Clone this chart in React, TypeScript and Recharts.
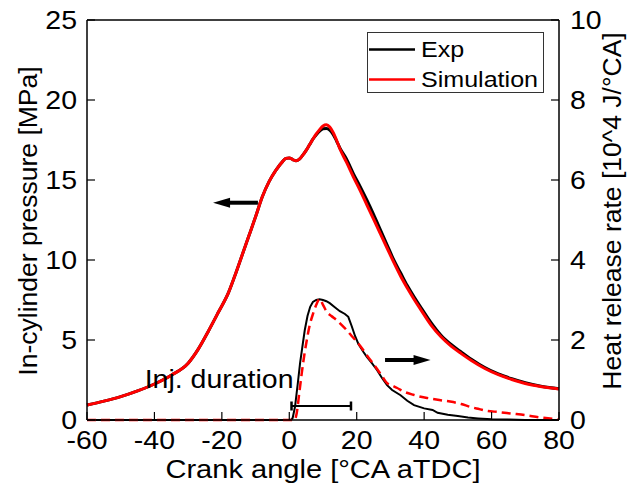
import { ComposedChart, Line, XAxis, YAxis, Legend, ReferenceLine } from "recharts";

// crank angle [°CA aTDC] -> in-cylinder pressure [MPa]
const pressureAngle = [
  -60, -55, -50, -45, -40, -35, -30, -27, -24, -21, -18, -16, -14, -12, -10, -8, -6, -4, -2, -1,
  0, 1, 2, 3, 4, 5, 6, 7, 8, 9, 10, 11, 12, 13, 14, 15, 17, 19, 21, 23, 25, 27, 29, 31, 33, 35,
  37, 39, 42, 45, 48, 51, 54, 58, 62, 66, 70, 75, 80,
];
const pressureExp = [
  0.94, 1.18, 1.46, 1.82, 2.25, 2.8, 3.55, 4.43, 5.55, 6.75, 7.98, 9.1, 10.3, 11.5, 12.7, 13.95, 14.9, 15.6, 16.15, 16.35,
  16.38, 16.28, 16.2, 16.3, 16.55, 16.85, 17.2, 17.55, 17.82, 18.05, 18.2, 18.22, 18.12, 17.85, 17.45, 17.0, 16.3, 15.4, 14.6, 13.75, 12.85, 11.9, 10.95, 10.0, 9.2, 8.4,
  7.7, 7.05, 6.1, 5.3, 4.72, 4.25, 3.8, 3.28, 2.88, 2.58, 2.33, 2.1, 1.96,
];
const pressureSim = [
  0.94, 1.18, 1.46, 1.82, 2.25, 2.8, 3.55, 4.43, 5.55, 6.75, 7.98, 9.1, 10.3, 11.5, 12.7, 13.95, 14.9, 15.6, 16.15, 16.35,
  16.38, 16.28, 16.2, 16.3, 16.55, 16.85, 17.2, 17.55, 17.88, 18.15, 18.38, 18.45, 18.32, 17.98, 17.5, 16.95, 16.1, 15.2, 14.35, 13.45, 12.55, 11.65, 10.75, 9.85, 9.0, 8.25,
  7.55, 6.9, 5.95, 5.2, 4.62, 4.15, 3.72, 3.22, 2.83, 2.53, 2.28, 2.08, 1.94,
];

// crank angle -> heat release rate [10^4 J/°CA]
const hrrExp: [number, number][] = [
  [-60, 0], [0.5, 0], [1, 0.05], [1.7, 0.33], [2.5, 0.9], [3.2, 1.42], [4, 1.9], [4.6, 2.25], [5.4, 2.6],
  [6.2, 2.83], [7, 2.95], [8, 3.0], [9, 3.02], [10, 3.0], [11, 2.97], [12, 2.92], [13.5, 2.82], [15, 2.72],
  [16.5, 2.65], [17.5, 2.58], [18.5, 2.35], [19.5, 2.1], [20.5, 1.9], [22, 1.7], [23, 1.58], [24.5, 1.42],
  [26, 1.25], [27.5, 1.05], [29, 0.87], [30.5, 0.75], [33, 0.62], [35, 0.48], [37, 0.37], [40, 0.29],
  [42.5, 0.25], [44, 0.18], [47, 0.13], [50, 0.1], [53, 0.06], [56, 0.04], [60, 0.02], [65, 0.01], [70, 0], [80, 0],
];
const hrrSim: [number, number][] = [
  [-60, 0], [1.5, 0], [2.2, 0.17], [3, 0.7], [3.7, 1.17], [4.5, 1.65], [5.2, 2.0], [6, 2.35], [7.1, 2.67],
  [8, 2.88], [9, 3.03], [10, 2.88], [11, 2.72], [12.5, 2.6], [14, 2.5], [15.5, 2.38], [17, 2.25], [18.5, 2.1],
  [20, 1.96], [21.5, 1.8], [23, 1.62], [24.5, 1.45], [26, 1.28], [27.5, 1.1], [29, 0.92], [30.5, 0.86],
  [32, 0.8], [34, 0.71], [36.8, 0.63], [39, 0.58], [41.7, 0.54], [44.5, 0.5], [47.7, 0.46], [51, 0.4],
  [53.6, 0.33], [56, 0.28], [58.6, 0.23], [62, 0.2], [66, 0.16], [70, 0.12], [74, 0.07], [78, 0.03], [80, 0.01],
];

const angleTicks = [-60, -40, -20, 0, 20, 40, 60, 80];
const pressureTicks = [0, 5, 10, 15, 20, 25];
const hrrTicks = [0, 2, 4, 6, 8, 10];

const seriesNames = ["Exp", "Simulation"];
const seriesColors = ["#000000", "#ff0000"];

// injection window [°CA] and the level it is drawn at (HRR axis)
const injStart = 0.66;
const injEnd = 18.3;
const injLevel = 0.35;
const injLabel = "Inj. duration";

// arrows pointing to the axis each curve family belongs to (pressure units)
const pressureArrow = [{ x: -9.3, y: 13.58 }, { x: -22.6, y: 13.58 }];
const hrrArrow = [{ x: 28.4, y: 3.75 }, { x: 41.9, y: 3.75 }];

const FONT = '"Liberation Sans", Arial, sans-serif';
const SX = 1.14;

const pressureData = pressureAngle.map((ca, i) => ({ ca, exp: pressureExp[i], sim: pressureSim[i] }));
const hrrExpData = hrrExp.map(([ca, v]) => ({ ca, v }));
const hrrSimData = hrrSim.map(([ca, v]) => ({ ca, v }));

function BottomTick({ x, y, payload }: any) {
  return (
    <g transform={`translate(${x},${y}) scale(${SX},1)`}>
      <text x={0} y={29} textAnchor="middle" fontSize={25} fontFamily={FONT} fill="#000">
        {payload.value}
      </text>
    </g>
  );
}

function LeftTick({ x, y, payload }: any) {
  return (
    <g transform={`translate(${x - 10},${y + 8.5}) scale(${SX},1)`}>
      <text x={0} y={0} textAnchor="end" fontSize={25} fontFamily={FONT} fill="#000">
        {payload.value}
      </text>
    </g>
  );
}

function RightTick({ x, y, payload }: any) {
  return (
    <g transform={`translate(${x + 11},${y + 8.5}) scale(${SX},1)`}>
      <text x={0} y={0} textAnchor="start" fontSize={25} fontFamily={FONT} fill="#000">
        {payload.value}
      </text>
    </g>
  );
}

function Arrow({ x1, y1, x2, y2 }: any) {
  const dir = Math.sign(x2 - x1);
  const base = x2 - dir * 17;
  return (
    <g>
      <line x1={x1} y1={y1} x2={base + dir * 2} y2={y2} stroke="#000" strokeWidth={4} />
      <polygon points={`${x2},${y2} ${base},${y2 - 5} ${base},${y2 + 5}`} fill="#000" />
    </g>
  );
}

function InjBar({ x1, y1, x2, y2 }: any) {
  return (
    <g>
      <line x1={x1} y1={y1} x2={x2} y2={y2} stroke="#000" strokeWidth={2} />
      <line x1={x1} y1={y1 - 4.5} x2={x1} y2={y1 + 4.5} stroke="#000" strokeWidth={2.5} />
      <line x1={x2} y1={y2 - 4.5} x2={x2} y2={y2 + 4.5} stroke="#000" strokeWidth={2.5} />
      <g transform={`translate(${x1 + 2},${y1 - 18}) scale(${SX},1)`}>
        <text x={0} y={0} textAnchor="end" fontSize={25} fontFamily={FONT} fill="#000">
          {injLabel}
        </text>
      </g>
    </g>
  );
}

function LegendBox() {
  return (
    <svg width={177} height={61} style={{ display: "block" }}>
      <rect x={0.5} y={0.5} width={176} height={60} fill="#fff" stroke="#333" />
      {seriesNames.map((name, i) => (
        <g key={name}>
          <line x1={2} x2={48} y1={17.5 + 30 * i} y2={17.5 + 30 * i} stroke={seriesColors[i]} strokeWidth={2.5} />
          <g transform={`translate(54,${25 + 30 * i}) scale(${SX},1)`}>
            <text x={0} y={0} fontSize={22} fontFamily={FONT} fill="#000">
              {name}
            </text>
          </g>
        </g>
      ))}
    </svg>
  );
}

export default function App() {
  return (
    <div style={{ position: "absolute", left: 0, top: 0, background: "#fff" }}>
      <ComposedChart width={639} height={487} margin={{ top: 20, right: 0, bottom: 0, left: 0 }}>
        <XAxis
          type="number"
          dataKey="ca"
          domain={[-60, 80]}
          ticks={angleTicks}
          interval={0}
          height={67}
          axisLine={{ stroke: "#000", strokeWidth: 1.5 }}
          tickLine={{ stroke: "#000", strokeWidth: 1.2 }}
          tickSize={-8}
          tickMargin={8}
          tick={<BottomTick />}
          label={(p: any) => {
            const vb = p.viewBox || { x: 87, y: 420, width: 472 };
            return (
              <g transform={`translate(${vb.x + vb.width / 2},${vb.y + 58}) scale(${SX},1)`}>
                <text x={0} y={0} textAnchor="middle" fontSize={25.5} fontFamily={FONT} fill="#000">
                  Crank angle [°CA aTDC]
                </text>
              </g>
            );
          }}
        />
        <YAxis
          yAxisId="p"
          orientation="left"
          domain={[0, 25]}
          ticks={pressureTicks}
          interval={0}
          width={87}
          axisLine={{ stroke: "#000", strokeWidth: 1.5 }}
          tickLine={{ stroke: "#000", strokeWidth: 1.2 }}
          tickSize={-8}
          tickMargin={8}
          tick={<LeftTick />}
          label={(p: any) => {
            const vb = p.viewBox || { x: 0, y: 20, height: 400 };
            return (
              <text
                transform={`translate(${vb.x + 28},${vb.y + vb.height / 2 + 1}) rotate(-90)`}
                x={0}
                y={9}
                textAnchor="middle"
                fontSize={26.5}
                fontFamily={FONT}
                fill="#000"
              >
                In-cylinder pressure [MPa]
              </text>
            );
          }}
        />
        <YAxis
          yAxisId="h"
          orientation="right"
          domain={[0, 10]}
          ticks={hrrTicks}
          interval={0}
          width={80}
          axisLine={{ stroke: "#000", strokeWidth: 1.5 }}
          tickLine={{ stroke: "#000", strokeWidth: 1.2 }}
          tickSize={-8}
          tickMargin={8}
          tick={<RightTick />}
          label={(p: any) => {
            const vb = p.viewBox || { x: 559, y: 20, height: 400 };
            return (
              <text
                transform={`translate(${vb.x + 53},${vb.y + 191}) rotate(-90)`}
                x={0}
                y={9}
                textAnchor="middle"
                fontSize={26.5}
                fontFamily={FONT}
                fill="#000"
              >
                Heat release rate [10^4 J/°CA]
              </text>
            );
          }}
        />
        <ReferenceLine yAxisId="p" y={25} stroke="#000" strokeWidth={1.5} />

        <Line data={pressureData} dataKey="exp" yAxisId="p" type="monotone" stroke={seriesColors[0]} strokeWidth={3} dot={false} activeDot={false} isAnimationActive={false} />
        <Line data={pressureData} dataKey="sim" yAxisId="p" type="monotone" stroke={seriesColors[1]} strokeWidth={3} dot={false} activeDot={false} isAnimationActive={false} />
        <Line data={hrrExpData} dataKey="v" yAxisId="h" type="linear" stroke={seriesColors[0]} strokeWidth={2} dot={false} activeDot={false} isAnimationActive={false} />
        <Line data={hrrSimData} dataKey="v" yAxisId="h" type="monotone" stroke={seriesColors[1]} strokeWidth={2.5} strokeDasharray="9 5" dot={false} activeDot={false} isAnimationActive={false} />

        <ReferenceLine yAxisId="p" segment={pressureArrow} shape={(props: any) => <Arrow {...props} />} />
        <ReferenceLine yAxisId="p" segment={hrrArrow} shape={(props: any) => <Arrow {...props} />} />
        <ReferenceLine
          yAxisId="h"
          segment={[{ x: injStart, y: injLevel }, { x: injEnd, y: injLevel }]}
          shape={(props: any) => <InjBar {...props} />}
        />

        <Legend
          layout="horizontal"
          verticalAlign="middle"
          align="center"
          wrapperStyle={{ left: 367, top: 32, width: 177, height: 61 }}
          content={() => <LegendBox />}
        />
      </ComposedChart>
    </div>
  );
}
